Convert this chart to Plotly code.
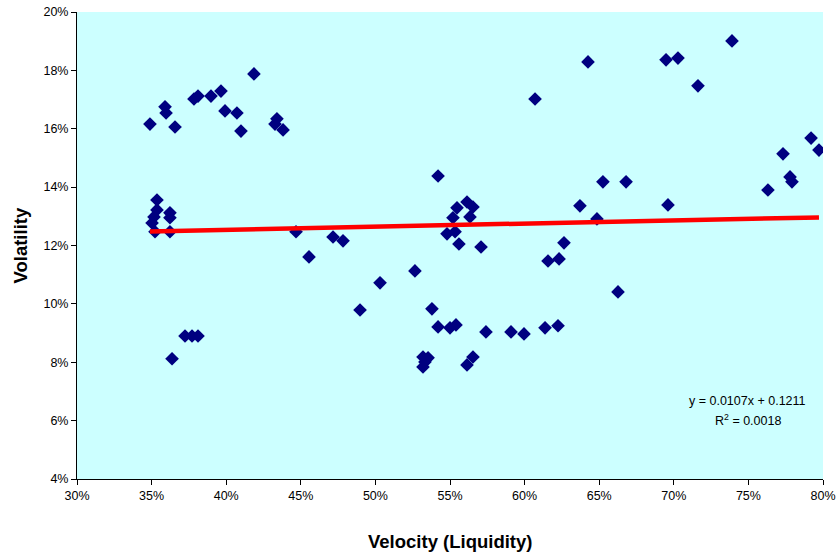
import plotly.graph_objects as go

# Velocity (liquidity) vs volatility, fractions
velocity = [
    0.3489, 0.3590, 0.3597, 0.3657, 0.3784, 0.3811, 0.3898, 0.3965, 0.3992, 0.4072,
    0.4099, 0.4186, 0.4340, 0.4327, 0.4381,
    0.3536, 0.3536, 0.3516, 0.3503, 0.3523, 0.3623, 0.3623, 0.3623,
    0.4468, 0.4555, 0.4716, 0.4783, 0.4897, 0.5031, 0.5265, 0.5379, 0.5420,
    0.5420, 0.5500, 0.5540, 0.5741, 0.5909, 0.5996, 0.6137, 0.6224,
    0.5319, 0.5332, 0.5319, 0.5353, 0.5614, 0.5654,
    0.3724, 0.3771, 0.3811, 0.3637,
    0.5614, 0.5547, 0.5654, 0.5634, 0.5520, 0.5534, 0.5480, 0.5560, 0.5708,
    0.6070, 0.6425, 0.6948, 0.7028, 0.7162, 0.7390, 0.7920, 0.7973, 0.7732,
    0.7779, 0.7792, 0.7631, 0.6525, 0.6680, 0.6371, 0.6961, 0.6485, 0.6264,
    0.6157, 0.6231, 0.6626,
]
volatility = [
    0.1616, 0.1675, 0.1654, 0.1606, 0.1702, 0.1712, 0.1712, 0.1729, 0.1661, 0.1654,
    0.1592, 0.1788, 0.1634, 0.1616, 0.1596,
    0.1356, 0.1322, 0.1298, 0.1277, 0.1247, 0.1312, 0.1295, 0.1247,
    0.1247, 0.1161, 0.1229, 0.1216, 0.0979, 0.1072, 0.1113, 0.0983, 0.1438,
    0.0921, 0.0918, 0.0928, 0.0904, 0.0904, 0.0897, 0.0918, 0.0925,
    0.0818, 0.0801, 0.0784, 0.0815, 0.0791, 0.0818,
    0.0890, 0.0890, 0.0890, 0.0812,
    0.1349, 0.1329, 0.1332, 0.1298, 0.1295, 0.1247, 0.1240, 0.1205, 0.1195,
    0.1702, 0.1829, 0.1836, 0.1842, 0.1747, 0.1901, 0.1568, 0.1527, 0.1514,
    0.1435, 0.1418, 0.1390, 0.1418, 0.1418, 0.1336, 0.1339, 0.1291, 0.1209,
    0.1147, 0.1154, 0.1041,
]

# Linear trendline as printed on the chart
trend_slope = 0.0107
trend_intercept = 0.1211
equation_text = "y = 0.0107x + 0.1211"
r2_text = "R<sup>2</sup> = 0.0018"

x_title = "Velocity (Liquidity)"
y_title = "Volatility"

x_lo, x_hi = min(velocity), max(velocity)
trend_x = [x_lo, x_hi]
trend_y = [trend_slope * v + trend_intercept for v in trend_x]

fig = go.Figure()
fig.add_trace(go.Scatter(
    x=velocity, y=volatility, mode="markers",
    marker=dict(symbol="diamond", size=10.5, color="#000080",
                line=dict(width=0)),
    showlegend=False, hoverinfo="x+y",
))
fig.add_trace(go.Scatter(
    x=trend_x, y=trend_y, mode="lines",
    line=dict(color="#FF0000", width=4.5),
    showlegend=False, hoverinfo="skip",
))

fnt = "Arial, Liberation Sans, sans-serif"
fig.update_layout(
    width=838, height=553,
    margin=dict(l=77, r=15, t=12, b=74, autoexpand=False),
    paper_bgcolor="white", plot_bgcolor="#CCFFFF",
    font=dict(family=fnt, size=12, color="black"),
    xaxis=dict(range=[0.30, 0.80], dtick=0.05, tick0=0.30, tickformat=".0%",
               showgrid=False, zeroline=False, showline=True, linecolor="black",
               linewidth=1, ticks="outside", ticklen=5, tickcolor="black",
               automargin=False, tickfont=dict(size=12.5, family=fnt)),
    yaxis=dict(range=[0.04, 0.20], dtick=0.02, tick0=0.04, tickformat=".0%",
               showgrid=False, zeroline=False, showline=True, linecolor="black",
               linewidth=1, ticks="outside", ticklen=5, tickcolor="black",
               automargin=False, tickfont=dict(size=12.5, family=fnt)),
    annotations=[
        dict(text=equation_text, x=0.7497, y=0.0668, xref="x", yref="y",
             showarrow=False, font=dict(size=12.5, family=fnt, color="black")),
        dict(text=r2_text, x=0.7497, y=0.0603, xref="x", yref="y",
             showarrow=False, font=dict(size=12.5, family=fnt, color="black")),
        dict(text="<b>" + x_title + "</b>", x=0.5, y=0, xref="paper", yref="paper",
             yanchor="middle", yshift=-62, showarrow=False,
             font=dict(size=18.5, family=fnt, color="black")),
        dict(text="<b>" + y_title + "</b>", x=0, y=0.5, xref="paper", yref="paper",
             xanchor="center", xshift=-57, textangle=-90, showarrow=False,
             font=dict(size=18.5, family=fnt, color="black")),
    ],
)

fig.write_html(
    "out.html",
    config={"displayModeBar": False},
    post_script="document.body.style.margin='0';document.body.style.padding='0';",
)
